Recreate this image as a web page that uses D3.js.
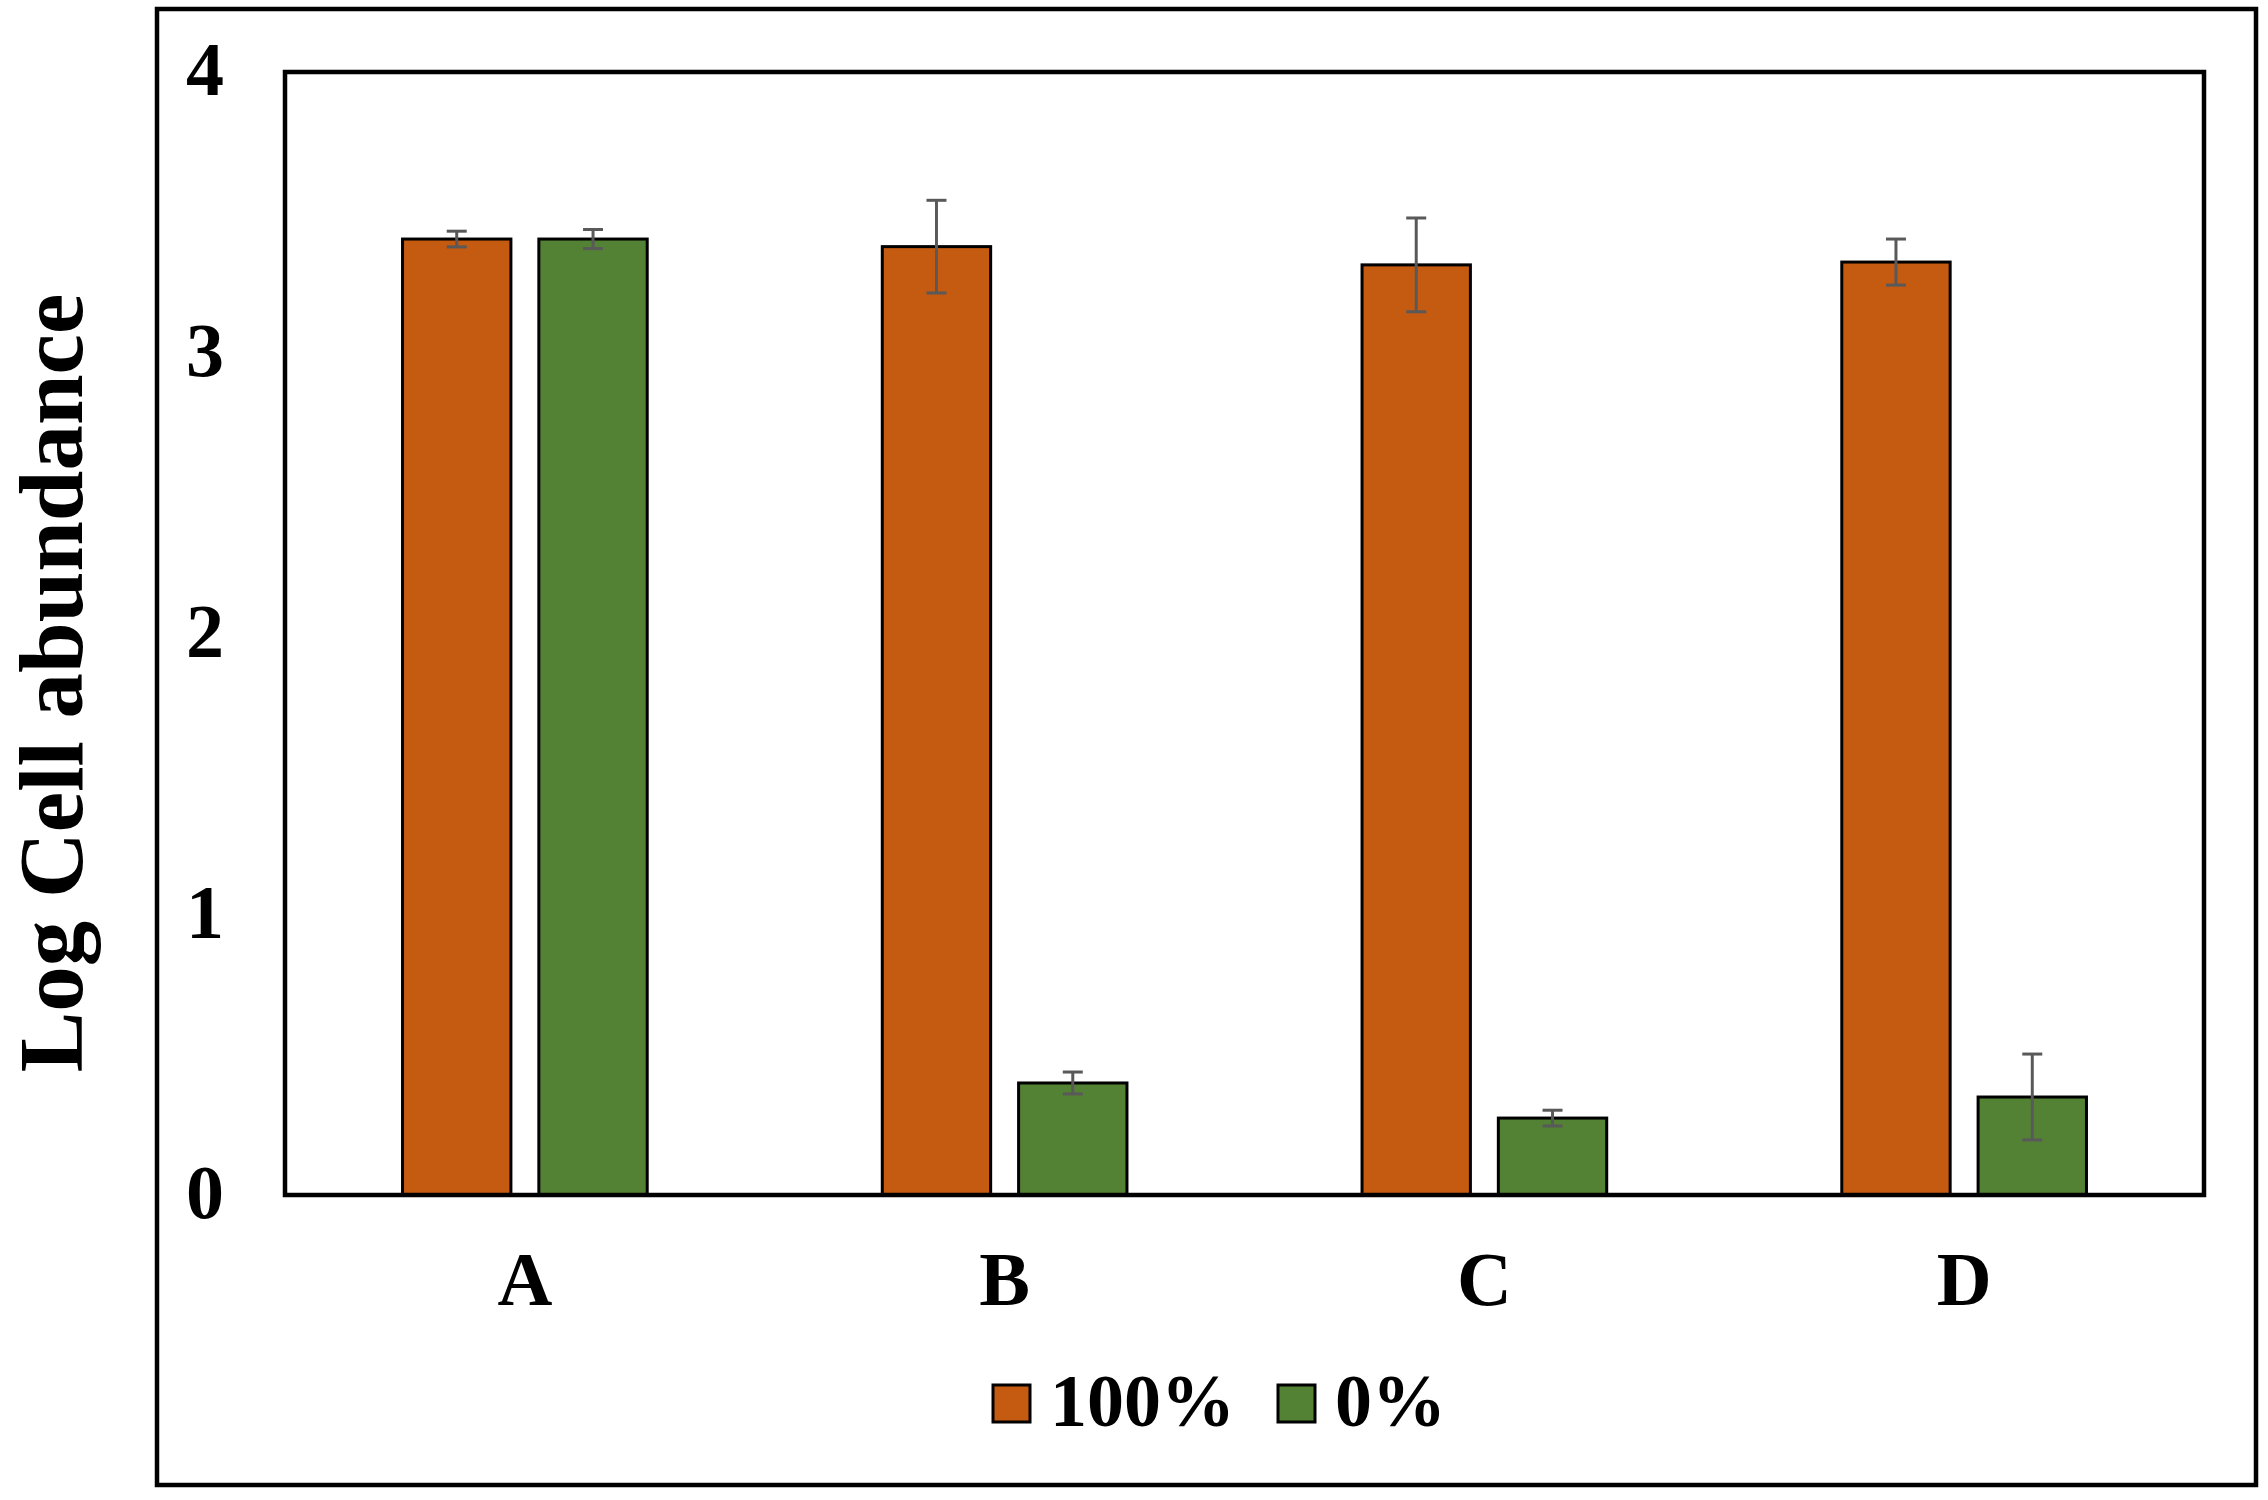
<!DOCTYPE html>
<html>
<head>
<meta charset="utf-8">
<script src="https://cdn.jsdelivr.net/npm/d3@7"></script>
<style>
    body { margin: 0; background: #fff; }
    text { font-family: "Liberation Serif", "Times New Roman", serif; font-weight: bold; fill: #000; }
</style>
</head>
<body>
<svg id="drawing_region"></svg>
<script>
const categories = ['A', 'B', 'C', 'D'];
const series = ['100%', '0%'];
const values_100 = [3.405, 3.378, 3.313, 3.323];
const errors_100 = [0.028, 0.165, 0.167, 0.082];
const values_0 = [3.405, 0.399, 0.274, 0.349];
const errors_0 = [0.034, 0.039, 0.028, 0.153];
const y_ticks = [0, 1, 2, 3, 4];
const colors = ['#C55A11', '#548235'];

const data = [];
categories.forEach( (c, i) => {
    data.push({ cat: c, ser: series[0], value: values_100[i], err: errors_100[i] });
    data.push({ cat: c, ser: series[1], value: values_0[i], err: errors_0[i] });
});

const config = {
    width: 2268,
    height: 1500,
    plot: { left: 285, top: 72, right: 2204, bottom: 1195 }
};

const svg = d3.select('#drawing_region')
    .attr('width', config.width)
    .attr('height', config.height);

// outer chart border
svg.append('rect')
    .attr('x', 157).attr('y', 9)
    .attr('width', 2256 - 157).attr('height', 1485 - 9)
    .attr('fill', 'none')
    .attr('stroke', '#000')
    .attr('stroke-width', 4.5);

const xscale = d3.scaleBand()
    .domain(categories)
    .range([config.plot.left, config.plot.right])
    .paddingInner(0.49)
    .paddingOuter(0.245);

const xsub = d3.scaleBand()
    .domain(series)
    .range([0, xscale.bandwidth()])
    .paddingInner(0.205);

const yscale = d3.scaleLinear()
    .domain([0, 4])
    .range([config.plot.bottom, config.plot.top]);

const color = d3.scaleOrdinal().domain(series).range(colors);

// bars
svg.append('g').selectAll('rect')
    .data(data)
    .join('rect')
    .attr('x', d => xscale(d.cat) + xsub(d.ser))
    .attr('y', d => yscale(d.value))
    .attr('width', xsub.bandwidth())
    .attr('height', d => yscale(0) - yscale(d.value))
    .attr('fill', d => color(d.ser))
    .attr('stroke', '#000')
    .attr('stroke-width', 3);

// error bars
const err_g = svg.append('g')
    .attr('stroke', '#595959')
    .attr('stroke-width', 3);

const cx = d => xscale(d.cat) + xsub(d.ser) + xsub.bandwidth() / 2;

err_g.selectAll('line.v')
    .data(data)
    .join('line')
    .attr('class', 'v')
    .attr('x1', cx).attr('x2', cx)
    .attr('y1', d => yscale(d.value + d.err))
    .attr('y2', d => yscale(d.value - d.err));

err_g.selectAll('line.top')
    .data(data)
    .join('line')
    .attr('class', 'top')
    .attr('x1', d => cx(d) - 10).attr('x2', d => cx(d) + 10)
    .attr('y1', d => yscale(d.value + d.err))
    .attr('y2', d => yscale(d.value + d.err));

err_g.selectAll('line.bot')
    .data(data)
    .join('line')
    .attr('class', 'bot')
    .attr('x1', d => cx(d) - 10).attr('x2', d => cx(d) + 10)
    .attr('y1', d => yscale(d.value - d.err))
    .attr('y2', d => yscale(d.value - d.err));

// plot area border
svg.append('rect')
    .attr('x', config.plot.left).attr('y', config.plot.top)
    .attr('width', config.plot.right - config.plot.left)
    .attr('height', config.plot.bottom - config.plot.top)
    .attr('fill', 'none')
    .attr('stroke', '#000')
    .attr('stroke-width', 4.5);

// y axis
const yaxis = d3.axisLeft(yscale)
    .tickValues(y_ticks)
    .tickFormat(d3.format('d'))
    .tickSize(0);

const yaxis_group = svg.append('g')
    .attr('transform', 'translate(205, 0)')
    .call(yaxis);
yaxis_group.select('.domain').remove();
yaxis_group.selectAll('text')
    .attr('x', 0)
    .attr('dy', '0.3em')
    .attr('text-anchor', 'middle')
    .attr('font-size', 76)
    .attr('font-family', null);

// x axis
const xaxis = d3.axisBottom(xscale).tickSize(0);
const xaxis_group = svg.append('g')
    .attr('transform', 'translate(0, 1305)')
    .call(xaxis);
xaxis_group.select('.domain').remove();
xaxis_group.selectAll('text')
    .attr('y', 0)
    .attr('dy', null)
    .attr('font-size', 76)
    .attr('font-family', null);

// y label
svg.append('text')
    .attr('transform', 'translate(82, 683) rotate(-90)')
    .attr('text-anchor', 'middle')
    .attr('font-size', 91)
    .text('Log Cell abundance');

// legend
const legend_x = [993, 1278];
const legend = svg.append('g').selectAll('g')
    .data(series)
    .join('g')
    .attr('transform', (d, i) => `translate(${legend_x[i]}, 1385)`);

legend.append('rect')
    .attr('width', 37).attr('height', 37)
    .attr('fill', d => color(d))
    .attr('stroke', '#000')
    .attr('stroke-width', 3);

legend.append('text')
    .attr('x', 57)
    .attr('y', 41)
    .attr('font-size', 74)
    .text(d => d);
</script>
</body>
</html>
